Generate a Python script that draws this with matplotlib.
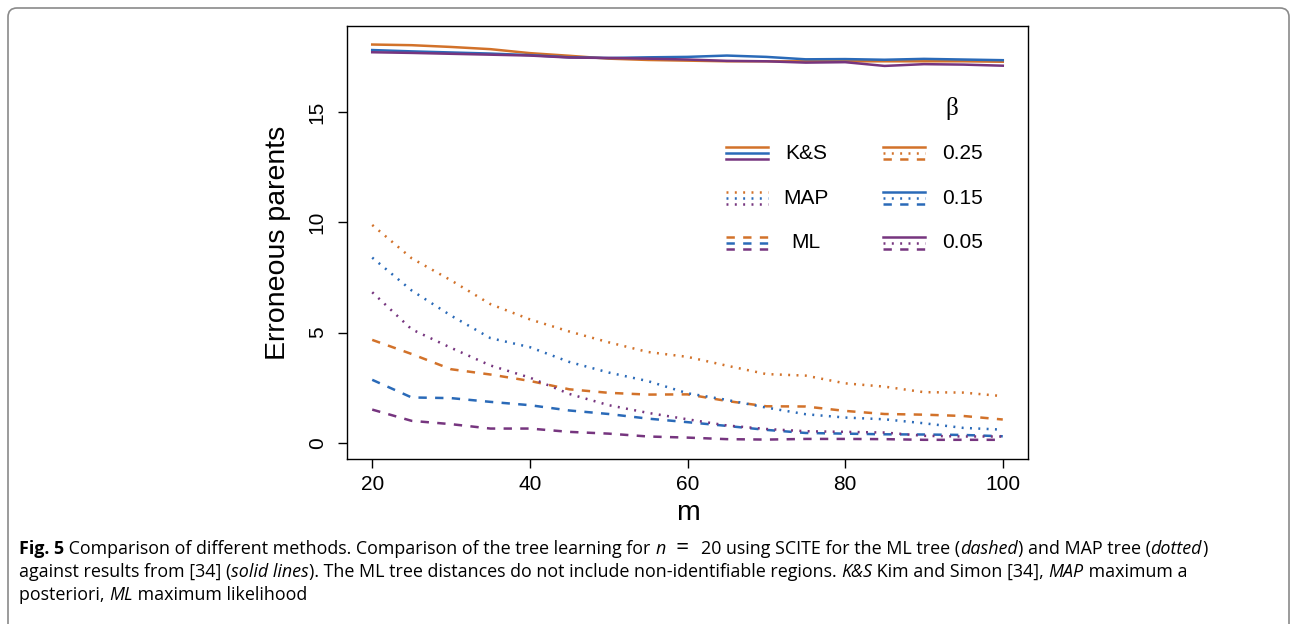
import matplotlib
matplotlib.use("Agg")
from matplotlib import pyplot as plt
from matplotlib.patches import FancyBboxPatch
from matplotlib.transforms import IdentityTransform

plt.rcParams['font.family'] = ['Liberation Sans', 'DejaVu Sans']
plt.rcParams['lines.scale_dashes'] = False

# number of mutations m
m = [20, 25, 30, 35, 40, 45, 50, 55, 60, 65, 70, 75, 80, 85, 90, 95, 100]

# K&S (solid)
ks_025 = [18.06, 18.03, 17.95, 17.85, 17.67, 17.55, 17.42, 17.36, 17.33, 17.30, 17.30, 17.30, 17.30, 17.30, 17.30, 17.30, 17.28]
ks_015 = [17.81, 17.75, 17.70, 17.65, 17.58, 17.48, 17.45, 17.48, 17.50, 17.56, 17.50, 17.39, 17.40, 17.37, 17.41, 17.38, 17.35]
ks_005 = [17.71, 17.68, 17.64, 17.60, 17.56, 17.47, 17.45, 17.42, 17.38, 17.32, 17.30, 17.24, 17.26, 17.09, 17.17, 17.15, 17.10]

# MAP tree (dotted)
map_025 = [9.88, 8.37, 7.37, 6.29, 5.60, 5.05, 4.56, 4.12, 3.90, 3.50, 3.12, 3.05, 2.70, 2.55, 2.30, 2.28, 2.12]
map_015 = [8.40, 6.91, 5.77, 4.75, 4.34, 3.67, 3.19, 2.80, 2.25, 1.95, 1.60, 1.30, 1.15, 1.07, 0.89, 0.68, 0.60]
map_005 = [6.83, 5.15, 4.31, 3.51, 2.96, 2.22, 1.71, 1.36, 1.07, 0.79, 0.63, 0.53, 0.50, 0.47, 0.32, 0.29, 0.29]

# ML tree (dashed)
ml_025 = [4.67, 4.03, 3.34, 3.10, 2.81, 2.43, 2.27, 2.19, 2.20, 1.90, 1.66, 1.65, 1.45, 1.31, 1.28, 1.22, 1.06]
ml_015 = [2.86, 2.06, 2.03, 1.86, 1.71, 1.47, 1.31, 1.10, 0.94, 0.77, 0.59, 0.45, 0.42, 0.39, 0.38, 0.36, 0.30]
ml_005 = [1.51, 1.00, 0.85, 0.65, 0.65, 0.50, 0.42, 0.29, 0.24, 0.17, 0.15, 0.18, 0.18, 0.17, 0.14, 0.14, 0.14]

betas = ['0.25', '0.15', '0.05']
colors = ['#D2722A', '#2A6AB8', '#76357F']
series = {
    '0.25': (ks_025, map_025, ml_025),
    '0.15': (ks_015, map_015, ml_015),
    '0.05': (ks_005, map_005, ml_005),
}
methods = ['K&S', 'MAP', 'ML']
styles = ['-', (0, (1.4, 4.6)), (0, (6, 6))]
lw = 1.8

fig = plt.figure(figsize=(12.92, 6.24), dpi=100)
ax = fig.add_axes([347 / 1292, 165 / 624, 681 / 1292, 433 / 624])

for beta, col in zip(betas, colors):
    for vals, ls in zip(series[beta], styles):
        ax.plot(m, vals, color=col, linestyle=ls, linewidth=lw)

ax.set_xlim(16.8, 103.2)
ax.set_ylim(-0.73, 18.9)
ax.set_xticks([20, 40, 60, 80, 100])
ax.set_yticks([0, 5, 10, 15])
ax.tick_params(axis='both', labelsize=15, length=6.5, width=1)
ax.tick_params(axis='x', pad=5)
ax.tick_params(axis='y', pad=8)
for lab in ax.get_yticklabels():
    lab.set_rotation(90)
    lab.set_va('center')
for sp in ax.spines.values():
    sp.set_linewidth(1)
ax.set_xlabel('m', fontsize=20.5, labelpad=4)
ax.set_ylabel('Erroneous parents', fontsize=20.5, labelpad=12)

# legend drawn by hand: stacked keys
def to_ax(px, py):
    return (px - 347) / 681, (459 - py) / 433

row_y = [153.3, 198.3, 242.7]
off = 6.0
for i, (meth, ls) in enumerate(zip(methods, styles)):
    for j, col in enumerate(colors):
        x0, y0 = to_ax(726, row_y[i] + (j - 1) * off)
        x1, _ = to_ax(768, 0)
        ax.plot([x0, x1], [y0, y0], transform=ax.transAxes, color=col,
                linestyle=ls, linewidth=lw, clip_on=False)
    tx, ty = to_ax(806, row_y[i])
    ax.text(tx, ty, meth, transform=ax.transAxes, fontsize=15,
            ha='center', va='center')

for i, (beta, col) in enumerate(zip(betas, colors)):
    for j, ls in enumerate(styles):
        x0, y0 = to_ax(883, row_y[i] + (j - 1) * off)
        x1, _ = to_ax(925, 0)
        ax.plot([x0, x1], [y0, y0], transform=ax.transAxes, color=col,
                linestyle=ls, linewidth=lw, clip_on=False)
    tx, ty = to_ax(942, row_y[i])
    ax.text(tx, ty, beta, transform=ax.transAxes, fontsize=15,
            ha='left', va='center')

bx, by = to_ax(951.5, 108)
ax.text(bx, by, 'β', transform=ax.transAxes, fontsize=18,
        family=['Liberation Serif', 'DejaVu Serif'], ha='center', va='center')

# outer frame
frame = FancyBboxPatch((8, -30), 1281, 646, boxstyle='round,pad=0,rounding_size=9',
                       transform=IdentityTransform(), fill=False,
                       edgecolor='#8a8a8a', linewidth=1.2)
fig.add_artist(frame)

# caption with mixed styles
renderer = fig.canvas.get_renderer()
cap_font = ['Open Sans', 'DejaVu Sans']
cap_size = 12.9


def text_width(s, **kw):
    t = fig.text(0, 0, s + '|', **kw)
    r = fig.text(0, 0, '|', **kw)
    w = t.get_window_extent(renderer).width - r.get_window_extent(renderer).width
    t.remove()
    r.remove()
    return w


def rich_line(x_px, y_px, parts):
    x = x_px
    for s, style in parts:
        kw = dict(fontsize=cap_size, family=cap_font)
        if style == 'b':
            kw['weight'] = 'bold'
        elif style == 'i':
            kw['style'] = 'italic'
        elif style == 'm':
            kw['fontsize'] = cap_size * 1.25
        fig.text(x / 1292, 1 - y_px / 624, s, va='baseline', ha='left', **kw)
        x += text_width(s, **kw)


caption = [
    [('Fig. 5', 'b'), (' Comparison of different methods. Comparison of the tree learning for ', ''),
     ('n', 'i'), ('\u2002=\u2002', 'm'), ('20 using SCITE for the ML tree (', ''), ('dashed', 'i'),
     (') and MAP tree (', ''), ('dotted', 'i'), (')', '')],
    [('against results from [34] (', ''), ('solid lines', 'i'),
     ('). The ML tree distances do not include non-identifiable regions. ', ''),
     ('K&S', 'i'), (' Kim and Simon [34], ', ''), ('MAP', 'i'), (' maximum a', '')],
    [('posteriori, ', ''), ('ML', 'i'), (' maximum likelihood', '')],
]
for k, parts in enumerate(caption):
    rich_line(19, 554 + 23 * k, parts)

fig.savefig('out.png', dpi=100)
